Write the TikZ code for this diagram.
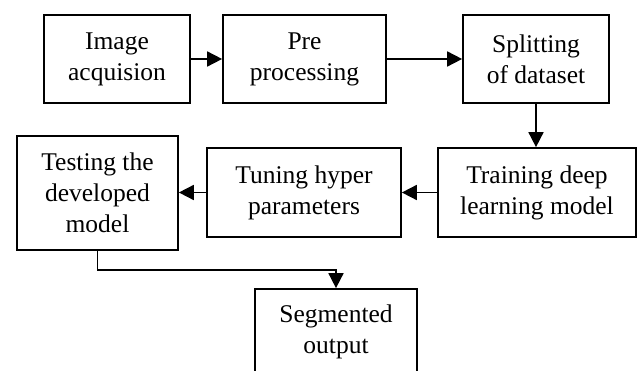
\documentclass[tikz,border=0pt]{standalone}
\usepackage{fontspec}
\setmainfont{Liberation Serif}
\usetikzlibrary{arrows.meta}
\begin{document}
\begin{tikzpicture}[x=1pt,y=-1pt,
  box/.style={draw, line width=1.7pt, align=center, inner sep=0pt,
    font=\fontsize{25.5}{31}\selectfont},
  arr/.style={line width=1.7pt, -{Triangle[length=15pt,width=15pt]}}]
\useasboundingbox (0,0) rectangle (638,371);
\clip (0,0) rectangle (638,371);
\node[box, minimum width=146pt, minimum height=88pt] (b1) at (117,59) {Image\\acquision};
\node[box, minimum width=163pt, minimum height=88pt] (b2) at (304.5,59) {Pre\\processing};
\node[box, minimum width=146pt, minimum height=88pt] (b3) at (536,59) {Splitting\\of dataset};
\node[box, minimum width=198pt, minimum height=89pt] (train) at (537,192.5) {Training deep\\learning model};
\node[box, minimum width=194pt, minimum height=89pt] (tune) at (304,192.5) {Tuning hyper\\parameters};
\node[box, minimum width=161pt, minimum height=114pt] (test) at (97.5,193) {Testing the\\developed\\model};
\node[box, minimum width=162pt, minimum height=86pt] (seg) at (336,332) {Segmented\\output};
\draw[arr] (b1) -- (b2);
\draw[arr] (b2) -- (b3);
\draw[arr] (b3.south) -- (b3.south |- train.north);
\draw[arr] (train) -- (tune.east |- train.west);
\draw[arr] (tune.west) -- (test.east |- tune.west);
\draw[arr] (test.south) -- ++(0,19) -| (seg.north);
\end{tikzpicture}
\end{document}
